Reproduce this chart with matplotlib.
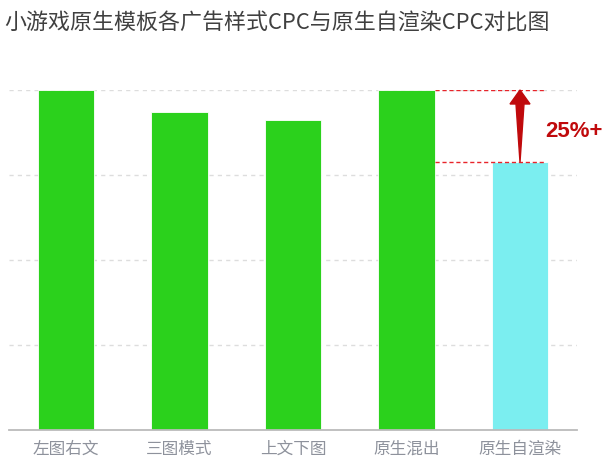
import matplotlib
matplotlib.use('Agg')
import matplotlib.pyplot as plt
import numpy as np

plt.rcParams['font.family'] = ['Noto Sans CJK SC', 'DejaVu Sans']

categories = ['左图右文', '三图模式', '上文下图', '原生混出', '原生自渲染']
cpc = [4.0, 3.745, 3.645, 4.0, 3.15]
bar_colors = ['#2bd11c', '#2bd11c', '#2bd11c', '#2bd11c', '#7beef0']
title = '小游戏原生模板各广告样式CPC与原生自渲染CPC对比图'
lift_label = '25%+'

fig = plt.figure(figsize=(6.13, 4.72), dpi=100)
ax = fig.add_axes([9.25 / 613, 42.3 / 472, 567.5 / 613, 339.7 / 472])

x = np.arange(len(categories))
ax.bar(x, cpc, width=0.5, color=bar_colors, edgecolor='#ffffff', linewidth=0.6, zorder=2)

ax.set_xlim(-0.5, len(categories) - 0.5)
ax.set_ylim(0, 4)
ax.set_yticks([1, 2, 3, 4])
ax.yaxis.grid(True, color='#dddddd', linestyle=(0, (3, 3)), linewidth=1, zorder=0)
ax.tick_params(axis='y', left=False, labelleft=False)
ax.set_xticks(x)
ax.set_xticklabels(categories, fontsize=12, color='#8e929c')
ax.tick_params(axis='x', length=0, pad=8)
for s in ['top', 'right', 'left']:
    ax.spines[s].set_visible(False)
ax.spines['bottom'].set_color('#bbbbbb')
ax.spines['bottom'].set_linewidth(1.3)

# red dashed reference lines from the native-mix bar to the self-render bar
hi, lo = cpc[3], cpc[4]
ax.hlines([hi, lo], x[3] + 0.25, x[4] + 0.23, colors='#e8242a',
          linestyles=(0, (3, 2)), linewidth=1, zorder=3)

# tapered arrow pointing up from lo to hi
ax_h = ax.get_position().height * 472
per_px = 4 / ax_h
head_h = 14 * per_px
xs = x[4]
ux = 1 / 113.5
arrow = plt.Polygon([
    (xs, lo),
    (xs + 4 * ux, hi - head_h),
    (xs + 10 * ux, hi - head_h),
    (xs, hi),
    (xs - 10 * ux, hi - head_h),
    (xs - 4 * ux, hi - head_h),
], closed=True, color='#c00a0c', zorder=4, clip_on=False)
ax.add_patch(arrow)
ax.text(xs + 0.22, (hi + lo) / 2 - 0.06, lift_label, fontsize=16, fontweight='bold',
        color='#c00a0c', family=['Liberation Sans', 'DejaVu Sans'],
        va='center', ha='left', clip_on=False)

fig.text(4 / 613, 1 - 24 / 472, title, fontsize=15.8, color='#404040',
         va='center', ha='left')

fig.savefig('out.png', dpi=100)
